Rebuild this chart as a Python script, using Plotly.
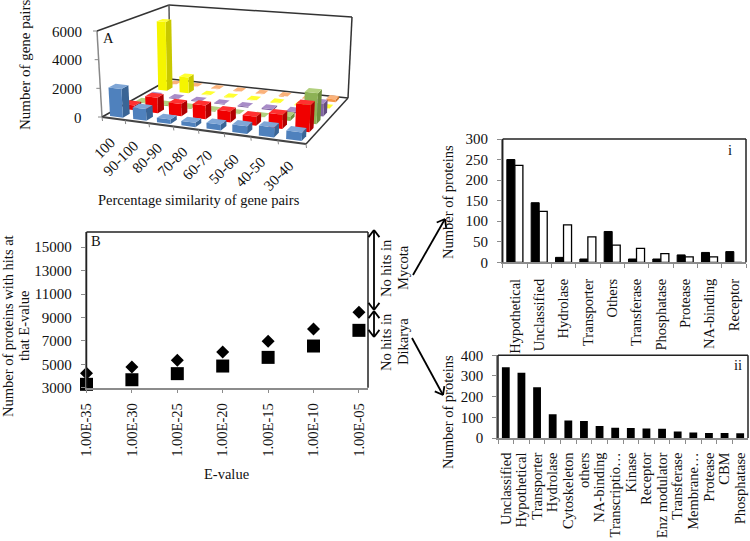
import numpy as np
import plotly.graph_objects as go

FONT = "Liberation Serif"
FS = 14.5
W, H = 750, 541

# ---- Panel A data
sim_bins = ["100", "90-100", "80-90", "70-80", "60-70", "50-60", "40-50", "30-40"]
a_blue = [2000, 800, 300, 300, 400, 500, 650, 550]
a_red = [350, 1100, 850, 950, 750, 600, 950, 1800]
a_green = [60, 60, 60, 60, 50, 50, 300, 2100]
a_purple = [50, 60, 60, 60, 60, 80, 100, 900]
a_yellow = [5300, 1200, 40, 40, 40, 40, 40, 40]
a_orange = [40, 40, 40, 40, 40, 40, 40, 200]
a_yticks = [0, 2000, 4000, 6000]

# ---- Panel B data
evalues = ["1.00E-35", "1.00E-30", "1.00E-25", "1.00E-20", "1.00E-15", "1.00E-10", "1.00E-05"]
b_diamond = [4230, 4770, 5340, 6050, 6960, 8020, 9440]
b_square = [3290, 3680, 4200, 4850, 5590, 6560, 7900]
b_yticks = [3000, 5000, 7000, 9000, 11000, 13000, 15000]

# ---- Panel i data
i_cats = ["Hypothetical", "Unclassified", "Hydrolase", "Transporter", "Others",
          "Transferase", "Phosphatase", "Protease", "NA-binding", "Receptor"]
i_black = [250, 145, 12, 8, 75, 8, 8, 18, 24, 26]
i_white = [236, 124, 91, 62, 42, 34, 21, 13, 13, 0]

# ---- Panel ii data
ii_cats = ["Unclassified", "Hypothetical", "Transporter", "Hydrolase", "Cytoskeleton", "others",
           "NA-binding", "Transcriptio…", "Kinase", "Receptor", "Enz modulator", "Transferase",
           "Membrane…", "Protease", "CBM", "Phosphatase"]
ii_vals = [342, 315, 245, 115, 85, 82, 58, 50, 48, 46, 45, 32, 26, 24, 24, 23]

series_a = [
    (a_blue, "#4F81BD", "#3A6596", "#7FA6D6"),
    (a_red, "#F00000", "#B00000", "#FF3030"),
    (a_green, "#8DB255", "#6E8F3E", "#B2D07E"),
    (a_purple, "#8064A2", "#634C80", "#A88CC8"),
    (a_yellow, "#F5F500", "#C8C800", "#FFFF30"),
    (a_orange, "#F79646", "#CC7430", "#FBB27A"),
]


def dx(a, b):
    return [a / W, b / W]


def dy(top, bot):
    return [1 - bot / H, 1 - top / H]


def homography(src, dst):
    A, b = [], []
    for (u, v), (x, y) in zip(src, dst):
        A.append([u, v, 1, 0, 0, 0, -u * x, -v * x]); b.append(x)
        A.append([0, 0, 0, u, v, 1, -u * y, -v * y]); b.append(y)
    return np.append(np.linalg.solve(np.array(A, float), np.array(b, float)), 1).reshape(3, 3)


square = [(0, 0), (1, 0), (0, 1), (1, 1)]
FLOOR = [(102, 117), (306, 144), (170, 79), (348, 98)]
TOP = [(97, 31), (311, 50), (169, 5), (352, 17)]
HF, HT = homography(square, FLOOR), homography(square, TOP)


def apply(Hm, u, v):
    p = Hm @ np.array([u, v, 1.0])
    return p[:2] / p[2]


def P(u, v, val):
    f, t = apply(HF, u, v), apply(HT, u, v)
    return f + (t - f) * val / 6000.0


fig = go.Figure()
fig.update_layout(
    template="none",
    xaxis=dict(domain=[0, 1], range=[0, W], visible=False, fixedrange=True, automargin=False),
    yaxis=dict(domain=[0, 1], range=[H, 0], visible=False, fixedrange=True, automargin=False),
)


def poly(xs, ys, color, width=0, fill=True, xa="x", ya="y"):
    fig.add_trace(go.Scatter(x=xs, y=ys, mode="lines", xaxis=xa, yaxis=ya,
                             fill="toself" if fill else "none",
                             fillcolor=color if fill else None,
                             line=dict(color=color, width=width),
                             hoverinfo="skip", showlegend=False))


def seg(a, b, color="#444444", width=1.5):
    poly([a[0], b[0]], [a[1], b[1]], color, width=width, fill=False)


fl, fr, bl, br = FLOOR
tl, tr, tbl, tbr = TOP
seg(tl, fl, "#888888", 1.5)
seg(tl, tbl, "#333333", 1.5)
seg(tbl, tbr, "#333333", 1.5)
seg(tbl, bl, "#555555", 1.5)
seg(tbr, br, "#333333", 1.5)
seg(bl, br, "#333333", 1.5)
seg(fl, bl, "#333333", 1.5)
seg(br, fr, "#333333", 1.5)
seg(fl, fr, "#444444", 2)

for k in range(len(sim_bins) + 1):
    p = P(k / len(sim_bins), 0, 0)
    seg(p, (p[0] + 0.5, p[1] + 4), "#888888", 1)
for t in a_yticks:
    p = P(0, 0, t)
    seg(p, (p[0] - 4, p[1]), "#888888", 1)

nrow, ncol = len(series_a), len(sim_bins)
for j in range(nrow - 1, -1, -1):
    vals, c_front, c_side, c_top = series_a[j]
    hw = 0.28 - 0.018 * j
    for i, val in enumerate(vals):
        u0, u1 = (i + 0.5 - hw) / ncol, (i + 0.5 + hw) / ncol
        v0, v1 = (j + 0.23) / nrow, (j + 0.77) / nrow
        right = [P(u1, v0, 0), P(u1, v1, 0), P(u1, v1, val), P(u1, v0, val), P(u1, v0, 0)]
        front = [P(u0, v0, 0), P(u1, v0, 0), P(u1, v0, val), P(u0, v0, val), P(u0, v0, 0)]
        top = [P(u0, v0, val), P(u1, v0, val), P(u1, v1, val), P(u0, v1, val), P(u0, v0, val)]
        for face, col in ((right, c_side), (front, c_front), (top, c_top)):
            poly([q[0] for q in face], [q[1] for q in face], col)

fig.add_trace(go.Scatter(x=evalues, y=b_diamond, mode="markers", xaxis="x2", yaxis="y2",
                         marker=dict(symbol="diamond", size=10, color="black"),
                         cliponaxis=False, showlegend=False))
fig.add_trace(go.Scatter(x=evalues, y=b_square, mode="markers", xaxis="x2", yaxis="y2",
                         marker=dict(symbol="square", size=13, color="black"),
                         cliponaxis=False, showlegend=False))

fig.add_trace(go.Bar(x=i_cats, y=i_black, xaxis="x3", yaxis="y3", marker=dict(color="black", line=dict(color="black", width=1)),
                     showlegend=False, offsetgroup="a"))
fig.add_trace(go.Bar(x=i_cats, y=i_white, xaxis="x3", yaxis="y3", marker=dict(color="white", line=dict(color="black", width=1.3)),
                     showlegend=False, offsetgroup="b"))

fig.add_trace(go.Bar(x=ii_cats, y=ii_vals, xaxis="x4", yaxis="y4", marker=dict(color="black"),
                     showlegend=False, width=0.5))

GRAY = "#8C8C8C"
tickfont = dict(family=FONT, size=FS, color="#111111")
numfont = dict(family=FONT, size=15, color="#111111")


def cat_axis(domain, anchor, boundaries=True, rng=None, standoff=6):
    d = dict(domain=domain, anchor=anchor, type="category", showgrid=False, zeroline=False,
             showline=True, linecolor=GRAY, linewidth=1.5, ticks="outside", ticklen=4,
             tickcolor=GRAY, tickangle=-90, tickfont=tickfont, fixedrange=True,
             ticklabelstandoff=standoff, automargin=False, dtick=1, tick0=0, tickmode="linear")
    if boundaries:
        d["tickson"] = "boundaries"
    if rng:
        d["range"] = rng
    return d


def val_axis(domain, anchor, rng, vals):
    return dict(domain=domain, anchor=anchor, range=rng, tickmode="array", tickvals=vals,
                ticktext=[str(v) for v in vals], showgrid=False,
                zeroline=False, showline=True, linecolor=GRAY, linewidth=1.5, ticks="outside",
                ticklen=4, tickcolor=GRAY, tickfont=numfont, fixedrange=True, automargin=False,
                ticklabelstandoff=6)


fig.update_layout(
    width=W, height=H, margin=dict(l=0, r=0, t=0, b=0), autosize=False,
    paper_bgcolor="white", plot_bgcolor="rgba(0,0,0,0)", barmode="group", bargap=0.34, bargroupgap=0,
    showlegend=False,
    xaxis2=cat_axis(dx(86.5, 368), "y2", boundaries=False, rng=[0, 6.2], standoff=4),
    yaxis2=val_axis(dy(232, 387.7), "x2", [3000, 16300], b_yticks),
    xaxis3=cat_axis(dx(502.7, 746), "y3", rng=[-0.5, 9.5], standoff=9),
    yaxis3=val_axis(dy(139, 262.3), "x3", [0, 300], [0, 50, 100, 150, 200, 250, 300]),
    xaxis4=cat_axis(dx(498, 748), "y4", rng=[-0.5, 15.5], standoff=7),
    yaxis4=val_axis(dy(355.3, 438), "x4", [0, 400], [0, 100, 200, 300, 400]),
)

shapes = []


def rect(x0, y0, x1, y1):
    for a, b, c, d in ((x0, y0, x1, y0), (x1, y0, x1, y1), (x0, y0, x0, y1)):
        shapes.append(dict(type="line", xref="x", yref="y", x0=a, y0=b, x1=c, y1=d,
                           line=dict(color="#222222", width=1.5)))


rect(86.5, 232, 368, 387.7)
rect(502.7, 139, 746, 262.3)
rect(498, 355.3, 748, 438)


def arrow(x0, y0, x1, y1, both=False, head=9):
    shapes.append(dict(type="line", xref="x", yref="y", x0=x0, y0=y0, x1=x1, y1=y1,
                       line=dict(color="black", width=1.8)))
    ends = [(x1, y1, x0, y0)] + ([(x0, y0, x1, y1)] if both else [])
    for xa, ya, xb, yb in ends:
        ang = np.arctan2(yb - ya, xb - xa)
        for s in (-0.65, 0.65):
            shapes.append(dict(type="line", xref="x", yref="y", x0=xa, y0=ya,
                               x1=xa + head * np.cos(ang + s), y1=ya + head * np.sin(ang + s),
                               line=dict(color="black", width=1.8)))


arrow(374, 230, 374, 310, both=True)
arrow(374, 311, 374, 337, both=True)
arrow(413, 275, 445, 219)
arrow(412, 338, 443, 395)
fig.update_layout(shapes=shapes)

notes = []


def text(x, y, s, angle=0, anchor="center", size=FS):
    notes.append(dict(xref="x", yref="y", x=x, y=y, text=s, showarrow=False, textangle=angle,
                      xanchor=anchor, yanchor="middle", font=dict(family=FONT, size=size, color="#111111")))


for t in a_yticks:
    text(84, P(0, 0, t)[1] + 0.5, str(t), anchor="right", size=15)
for k, lab in enumerate(sim_bins):
    p = P((k + 0.5) / ncol, 0, 0)
    L = 6.6 * len(lab)
    text(p[0] - 2 - L / 2 * 0.707, p[1] + 22 + L / 2 * 0.707, lab, angle=-45, size=15)
text(199, 200, "Percentage similarity of gene pairs")
text(25, 65, "Number of gene pairs", angle=-90, size=15)
text(108, 38, "A")
text(96, 241, "B")
text(730, 150, "i")
text(738, 365, "ii")
text(8, 326, "Number of proteins with hits at", angle=-90)
text(24, 326, "that E-value", angle=-90)
text(226, 474, "E-value")
text(386, 268, "No hits in", angle=-90)
text(403, 268, "Mycota", angle=-90)
text(386, 342, "No hits in", angle=-90)
text(403, 342, "Dikarya", angle=-90)
text(448, 202, "Number of proteins", angle=-90)
text(448, 412, "Number of proteins", angle=-90)
fig.update_layout(annotations=notes)

fig.write_html("out.html", config=dict(displayModeBar=False),
               post_script="document.body.style.margin='0';")
